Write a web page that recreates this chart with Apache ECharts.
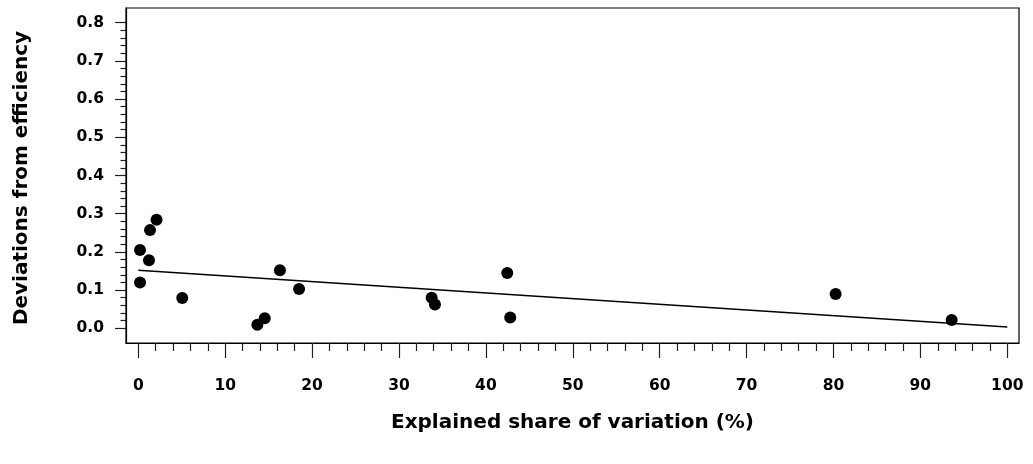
<!DOCTYPE html>
<html>
<head>
<meta charset="utf-8">
<script src="https://cdn.jsdelivr.net/npm/echarts@6/dist/echarts.min.js"></script>
<style>
html,body{margin:0;padding:0;background:#fff;}
#chart{width:1033px;height:464px;}
</style>
</head>
<body>
<div id="chart"></div>
<script>
// Data
const explainedShare = [0.2, 1.35, 2.1, 1.23, 0.2, 5.06, 13.7, 14.55, 16.3, 18.5, 33.76, 34.14, 42.46, 42.8, 80.25, 93.6];
const deviations    = [0.205, 0.257, 0.284, 0.178, 0.120, 0.079, 0.009, 0.026, 0.152, 0.103, 0.080, 0.062, 0.145, 0.028, 0.090, 0.022];
const fitX = [0, 100];
const fitY = [0.152, 0.0035];
const xMajorTicks = [0, 10, 20, 30, 40, 50, 60, 70, 80, 90, 100];
const xMinorTicks = [2,4,6,8,12,14,16,18,22,24,26,28,32,34,36,38,42,44,46,48,52,54,56,58,62,64,66,68,72,74,76,78,82,84,86,88,92,94,96,98];
const yMajorTicks = [0, 0.1, 0.2, 0.3, 0.4, 0.5, 0.6, 0.7, 0.8];
const yMinorTicks = [0.02,0.04,0.06,0.08,0.12,0.14,0.16,0.18,0.22,0.24,0.26,0.28,0.32,0.34,0.36,0.38,0.42,0.44,0.46,0.48,0.52,0.54,0.56,0.58,0.62,0.64,0.66,0.68,0.72,0.74,0.76,0.78];
const xTitle = 'Explained share of variation (%)';
const yTitle = 'Deviations from efficiency';

const FONT = '"DejaVu Sans", sans-serif';
const xMin = -1.415, xMax = 101.35, yMin = -0.0385, yMax = 0.8385;

const chart = echarts.init(document.getElementById('chart'), null, {renderer: 'canvas'});
const points = explainedShare.map((x, i) => [x, deviations[i]]);
const fit = fitX.map((x, i) => [x, fitY[i]]);

const labelStyle = {color: '#000', fontFamily: FONT, fontWeight: 'bold', fontSize: 15.5};

chart.setOption({
  animation: false,
  backgroundColor: '#fff',
  grid: {left: 126, right: 14, top: 8, bottom: 121, show: true, borderColor: '#000', borderWidth: 1.2, backgroundColor: 'transparent'},
  xAxis: [
    {type: 'value', position: 'bottom', min: xMin, max: xMax,
     axisLine: {show: true, onZero: false, lineStyle: {color: '#000', width: 1.2}},
     axisTick: {show: true, customValues: xMajorTicks, length: 15, lineStyle: {color: '#222', width: 1.2}},
     axisLabel: Object.assign({customValues: xMajorTicks, margin: 35, formatter: v => String(v)}, labelStyle),
     splitLine: {show: false}},
    {type: 'value', position: 'bottom', min: xMin, max: xMax,
     axisLine: {show: false, onZero: false},
     axisTick: {show: true, customValues: xMinorTicks, length: 8, lineStyle: {color: '#222', width: 1.2}},
     axisLabel: {show: false},
     splitLine: {show: false}}
  ],
  yAxis: [
    {type: 'value', position: 'left', min: yMin, max: yMax,
     axisLine: {show: true, onZero: false, lineStyle: {color: '#000', width: 1.2}},
     axisTick: {show: true, customValues: yMajorTicks, length: 11, lineStyle: {color: '#222', width: 1.2}},
     axisLabel: Object.assign({customValues: yMajorTicks, margin: 22, formatter: v => v.toFixed(1)}, labelStyle),
     splitLine: {show: false}},
    {type: 'value', position: 'left', min: yMin, max: yMax,
     axisLine: {show: false, onZero: false},
     axisTick: {show: true, customValues: yMinorTicks, length: 5.5, lineStyle: {color: '#222', width: 1.2}},
     axisLabel: {show: false},
     splitLine: {show: false}}
  ],
  series: [
    {type: 'line', xAxisIndex: 0, yAxisIndex: 0, data: fit, showSymbol: false, symbol: 'none',
     lineStyle: {color: '#000', width: 1.4}, silent: true},
    {type: 'scatter', xAxisIndex: 0, yAxisIndex: 0, data: points, symbol: 'circle', symbolSize: 12,
     itemStyle: {color: '#000', opacity: 1}}
  ],
  graphic: [
    {type: 'text', x: 572.5, y: 423,
     style: {text: xTitle, fill: '#000', font: 'bold 20px ' + FONT, textAlign: 'center', textVerticalAlign: 'middle'}},
    {type: 'text', x: 22, y: 178, rotation: Math.PI / 2,
     style: {text: yTitle, fill: '#000', font: 'bold 20px ' + FONT, textAlign: 'center', textVerticalAlign: 'middle'}}
  ]
});
</script>
</body>
</html>
